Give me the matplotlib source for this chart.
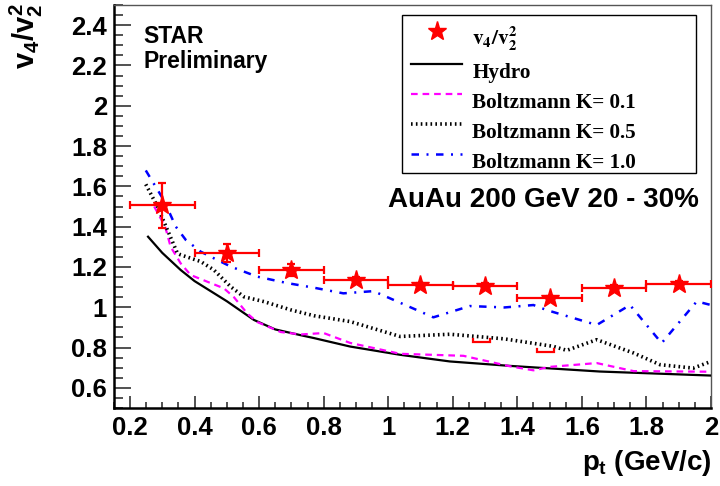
import matplotlib
matplotlib.use("Agg")
import matplotlib.pyplot as plt
from matplotlib.ticker import MultipleLocator
from matplotlib.lines import Line2D
from matplotlib.patches import Rectangle

plt.rcParams['font.family'] = ['Liberation Sans', 'DejaVu Sans']
plt.rcParams['mathtext.fontset'] = 'custom'
plt.rcParams['mathtext.rm'] = 'Liberation Sans:bold'
plt.rcParams['mathtext.it'] = 'Liberation Sans:bold'
plt.rcParams['mathtext.bf'] = 'Liberation Sans:bold'

# measured v4/v2^2
pt = [0.3, 0.5, 0.7, 0.9, 1.1, 1.3, 1.5, 1.7, 1.9]
ratio = [1.507, 1.271, 1.183, 1.135, 1.108, 1.106, 1.046, 1.098, 1.117]
ratio_err = [0.112, 0.044, 0.03, 0.015, 0.012, 0.012, 0.012, 0.012, 0.015]
pt_err = [0.1] * 9

# lower systematic bounds
sys_pt = [1.29, 1.488]
sys_low = [0.827, 0.776]

# ideal hydro
hydro_pt = [0.256, 0.30, 0.357, 0.40, 0.46, 0.50, 0.584, 0.65, 0.727, 0.77,
            0.882, 1.037, 1.191, 1.377, 1.656, 2.0]
hydro_val = [1.350, 1.27, 1.185, 1.13, 1.070, 1.03, 0.937, 0.89, 0.862, 0.847,
             0.805, 0.764, 0.731, 0.709, 0.681, 0.661]

# Boltzmann K = 0.1
k01_pt = [0.275, 0.309, 0.326, 0.357, 0.388, 0.45, 0.491, 0.522, 0.564, 0.594,
          0.667, 0.729, 0.80, 0.882, 1.037, 1.233, 1.305, 1.377, 1.45, 1.50,
          1.646, 1.76, 2.0]
k01_val = [1.50, 1.40, 1.30, 1.218, 1.16, 1.12, 1.094, 1.05, 0.968, 0.927,
           0.877, 0.865, 0.872, 0.823, 0.769, 0.759, 0.733, 0.707, 0.687, 0.704,
           0.723, 0.683, 0.680]

# Boltzmann K = 0.5
k05_pt = [0.249, 0.285, 0.316, 0.347, 0.357, 0.419, 0.46, 0.512, 0.553, 0.615,
          0.698, 0.77, 0.882, 1.037, 1.191, 1.274, 1.36, 1.511, 1.553, 1.646,
          1.76, 1.842, 1.945, 2.0]
k05_val = [1.610, 1.50, 1.384, 1.268, 1.26, 1.227, 1.185, 1.102, 1.052, 1.028,
           0.987, 0.958, 0.929, 0.855, 0.866, 0.855, 0.843, 0.806, 0.786, 0.839,
           0.773, 0.715, 0.698, 0.731]

# Boltzmann K = 1.0
k10_pt = [0.249, 0.305, 0.342, 0.373, 0.419, 0.46, 0.512, 0.594, 0.687, 0.77,
          0.861, 0.954, 1.006, 1.14, 1.253, 1.36, 1.45, 1.491, 1.646, 1.749,
          1.847, 1.956, 2.0]
k10_val = [1.679, 1.531, 1.40, 1.334, 1.276, 1.243, 1.202, 1.152, 1.12, 1.097,
           1.069, 1.08, 1.044, 0.95, 1.006, 0.999, 1.011, 0.986, 0.912, 1.011,
           0.822, 1.029, 1.011]

xticks = [0.2, 0.4, 0.6, 0.8, 1.0, 1.2, 1.4, 1.6, 1.8, 2.0]
xticklabels = ['0.2', '0.4', '0.6', '0.8', '1', '1.2', '1.4', '1.6', '1.8', '2']
yticks = [0.6, 0.8, 1.0, 1.2, 1.4, 1.6, 1.8, 2.0, 2.2, 2.4]
yticklabels = ['0.6', '0.8', '1', '1.2', '1.4', '1.6', '1.8', '2', '2.2', '2.4']

legend_labels = [r'$\mathbf{v_4/v_2^2}$', 'Hydro', 'Boltzmann K= 0.1',
                 'Boltzmann K= 0.5', 'Boltzmann K= 1.0']

fig = plt.figure(figsize=(7.2, 4.86), dpi=100)
ax = fig.add_axes([0.1581, 0.1605, 0.8294, 0.8292])
ax.set_xlim(0.15, 2.0)
ax.set_ylim(0.5, 2.5)

l_hydro, = ax.plot(hydro_pt, hydro_val, color='black', lw=1.6, zorder=3)
l_k01, = ax.plot(k01_pt, k01_val, color='#ff00ff', lw=1.6, dashes=(3, 2.2),
                 zorder=3)
l_k05, = ax.plot(k05_pt, k05_val, color='black', lw=2.6, dashes=(0.45, 0.9),
                 zorder=3)
l_k10, = ax.plot(k10_pt, k10_val, color='#0000ff', lw=1.8,
                 dashes=(3, 3, 0.8, 3), zorder=3)

ax.errorbar(pt, ratio, xerr=pt_err, yerr=ratio_err, fmt='none', ecolor='red',
            elinewidth=1.6, capsize=3, capthick=1.6, zorder=4)
ax.plot(pt, ratio, linestyle='none', marker='*', ms=14, color='red',
        mec='red', zorder=5)

# systematic brackets
for x0, y0 in zip(sys_pt, sys_low):
    hw, h = 0.026, 0.016
    ax.plot([x0 - hw, x0 - hw, x0 + hw, x0 + hw], [y0 + h, y0, y0, y0 + h],
            color='red', lw=1.6, zorder=4, solid_joinstyle='miter')

ax.xaxis.set_minor_locator(MultipleLocator(0.05))
ax.yaxis.set_minor_locator(MultipleLocator(0.05))
ax.set_xticks(xticks)
ax.set_xticklabels(xticklabels, fontsize=18.5, fontweight='bold')
ax.set_yticks(yticks)
ax.set_yticklabels(yticklabels, fontsize=18.5, fontweight='bold')

ax.tick_params(axis='both', which='both', direction='in', top=False, right=False,
               color='#333333', width=1.2)
ax.tick_params(axis='y', which='major', length=12.5, pad=5)
ax.tick_params(axis='y', which='minor', length=6.5)
ax.tick_params(axis='x', which='major', length=9, pad=6)
ax.tick_params(axis='x', which='minor', length=4.5)

for s in ['left', 'bottom']:
    ax.spines[s].set_linewidth(1.8)
    ax.spines[s].set_color('black')
for s in ['top', 'right']:
    ax.spines[s].set_linewidth(1.0)
    ax.spines[s].set_color('#555555')

fig.text(0.037, 0.995, r'$v_4/v_2^2$', rotation=90, ha='center', va='top',
         fontsize=21)
fig.text(0.988, 0.033, r'$p_t$ (GeV/c)', ha='right', va='baseline',
         fontsize=20, fontweight='bold')

ax.text(0.05, 0.95, 'STAR\nPreliminary', transform=ax.transAxes, ha='left',
        va='top', fontsize=16.5, fontweight='bold', linespacing=1.1)
ax.text(0.459, 0.499, 'AuAu 200 GeV 20 - 30%', transform=ax.transAxes,
        ha='left', va='baseline', fontsize=20, fontweight='bold')

# legend box with fixed size; entries drawn on top of it
ax.add_patch(Rectangle((0.482, 0.582), 0.493, 0.393, transform=ax.transAxes,
                       facecolor='white', edgecolor='black', lw=1.0, zorder=6))
star_handle = Line2D([], [], linestyle='none', marker='*', ms=14, color='red')
handles = [star_handle, l_hydro, l_k01, l_k05, l_k10]
leg = ax.legend(handles, legend_labels, loc='upper left',
                bbox_to_anchor=(0.482, 0.975),
                prop=dict(family='Liberation Serif', weight='bold', size=15.2),
                frameon=False, handlelength=2.4, handletextpad=0.5,
                labelspacing=0.48, borderpad=0.45, borderaxespad=0)
leg.set_zorder(7)
leg.get_texts()[0].set_math_fontfamily('stix')
# sample lines sit a little above the label text
for hl in leg.get_lines():
    hl.set_ydata([y + 4.8 for y in hl.get_ydata()])

fig.savefig('out.png', dpi=100)
